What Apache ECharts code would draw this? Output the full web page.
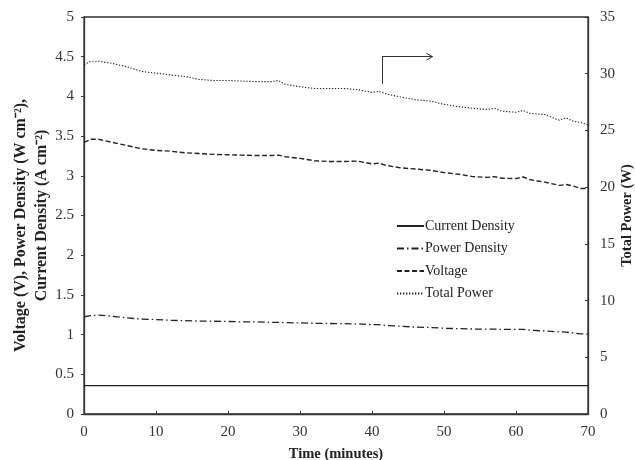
<!DOCTYPE html>
<html>
<head>
<meta charset="utf-8">
<script src="https://cdn.jsdelivr.net/npm/echarts@6/dist/echarts.min.js"></script>
<style>html,body{margin:0;padding:0;background:#fff}#c{width:635px;height:460px}</style>
</head>
<body>
<div id="c"></div>
<script>
// Time (minutes)
var minutes = [0,1,2,3,4,6,8,10,12,14,16,18,20,22,24,26,27,28,30,32,34,36,38,40,41,42,44,46,48,50,52,54,56,57,58,60,61,62,64,66,67,68,69,70];
// Voltage (V)
var voltage = [3.42,3.46,3.46,3.44,3.42,3.38,3.34,3.32,3.31,3.29,3.28,3.27,3.265,3.26,3.255,3.255,3.26,3.24,3.22,3.19,3.18,3.18,3.185,3.15,3.16,3.13,3.10,3.085,3.07,3.04,3.02,2.99,2.98,2.99,2.97,2.965,2.985,2.95,2.92,2.88,2.89,2.87,2.84,2.84];
// Power density (W cm-2)
var powerDensity = [1.225,1.24,1.245,1.24,1.23,1.21,1.195,1.19,1.18,1.175,1.17,1.168,1.165,1.16,1.16,1.155,1.155,1.15,1.148,1.142,1.14,1.138,1.135,1.125,1.125,1.115,1.105,1.095,1.09,1.08,1.075,1.07,1.068,1.07,1.065,1.065,1.065,1.055,1.045,1.035,1.03,1.02,1.01,1.005];
// Current density (A cm-2)
var currentDensity = [0.357,0.357,0.357,0.357,0.357,0.357,0.357,0.357,0.357,0.357,0.357,0.357,0.357,0.357,0.357,0.357,0.357,0.357,0.357,0.357,0.357,0.357,0.357,0.357,0.357,0.357,0.357,0.357,0.357,0.357,0.357,0.357,0.357,0.357,0.357,0.357,0.357,0.357,0.357,0.357,0.357,0.357,0.357,0.357];
// Total power (W)
var totalPower = [30.8,31.1,31.1,31.0,30.9,30.6,30.2,30.05,29.9,29.75,29.5,29.4,29.4,29.35,29.3,29.3,29.4,29.05,28.85,28.7,28.7,28.7,28.6,28.35,28.45,28.2,27.95,27.7,27.6,27.3,27.1,26.95,26.85,26.95,26.7,26.6,26.75,26.5,26.4,25.9,26.1,25.8,25.7,25.5];
// Annotation arrow (points to right axis): [minutes, W]
var arrowStart = [41.4, 29.1];
var arrowCorner = [41.4, 31.5];
var arrowEnd = [48.4, 31.5];
var arrowHeadBack = 0.85, arrowHeadHalf = 0.3;

function pairs(ys){ return minutes.map(function(t,i){ return [t, ys[i]]; }); }

var FONT = 'Liberation Serif';
var INK = '#222';
var chart = echarts.init(document.getElementById('c'), null, {renderer:'canvas'});

var axisCommon = {
  axisLine:{show:true, lineStyle:{color:'#333', width:1.3}},
  splitLine:{show:false},
  axisLabel:{fontFamily:FONT, fontSize:15, color:'#333'},
  nameMoveOverlap:false,
  nameTextStyle:{fontFamily:FONT, fontSize:14.5, fontWeight:'bold', color:INK}
};

chart.setOption({
  animation:false,
  backgroundColor:'#fff',
  color:[INK, INK, INK, INK],
  grid:{left:84, right:47, top:17, bottom:46, show:true, borderColor:'#333', borderWidth:1.3,
        containLabel:false, outerBoundsMode:'none'},
  legend:{
    orient:'vertical', left:391, top:214, itemWidth:27, itemHeight:14, itemGap:8.5,
    data:['Current Density','Power Density','Voltage','Total Power'],
    itemStyle:{opacity:0, borderWidth:0},
    textStyle:{fontFamily:FONT, fontSize:14, color:INK, padding:[0,0,0,-4]}
  },
  xAxis:Object.assign({}, axisCommon, {
    type:'value', min:0, max:70, interval:10,
    name:'Time (minutes)', nameLocation:'middle', nameGap:33,
    axisTick:{inside:true, length:3, lineStyle:{color:'#333'}},
    axisLabel:Object.assign({}, axisCommon.axisLabel, {margin:11})
  }),
  yAxis:[
    Object.assign({}, axisCommon, {
      type:'value', min:0, max:5, interval:0.5, position:'left',
      name:'{a|Voltage (V), Power Density (W cm\u207B\u00B2),}\n{b|Current Density (A cm\u207B\u00B2)}',
      nameLocation:'middle', nameRotate:90, nameGap:32,
      nameTextStyle:{fontFamily:FONT, fontSize:16, fontWeight:'bold', color:INK, lineHeight:21,
        rich:{a:{fontFamily:FONT, fontSize:16, fontWeight:'bold', color:INK, padding:[0,20,0,0]},
              b:{fontFamily:FONT, fontSize:16, fontWeight:'bold', color:INK}}},
      axisTick:{show:true, inside:false, length:3, lineStyle:{color:'#333'}},
      axisLabel:Object.assign({}, axisCommon.axisLabel, {margin:10})
    }),
    Object.assign({}, axisCommon, {
      type:'value', min:0, max:35, interval:5, position:'right',
      name:'Total Power (W)', nameLocation:'middle', nameRotate:90, nameGap:32,
      axisTick:{show:true, inside:true, length:3, lineStyle:{color:'#333'}},
      axisLabel:Object.assign({}, axisCommon.axisLabel, {margin:12})
    })
  ],
  series:[
    {name:'Current Density', type:'line', yAxisIndex:0, data:pairs(currentDensity), symbol:'none',
      itemStyle:{color:INK}, lineStyle:{color:INK, width:1.3, type:'solid'}},
    {name:'Power Density', type:'line', yAxisIndex:0, data:pairs(powerDensity), symbol:'none',
      itemStyle:{color:INK}, lineStyle:{color:INK, width:1.3, type:[7,3,1.5,3]}},
    {name:'Voltage', type:'line', yAxisIndex:0, data:pairs(voltage), symbol:'none',
      itemStyle:{color:INK}, lineStyle:{color:INK, width:1.4, type:[5,2.5]}},
    {name:'Total Power', type:'line', yAxisIndex:1, data:pairs(totalPower), symbol:'none',
      itemStyle:{color:INK}, lineStyle:{color:INK, width:1.1, type:[1.3,1.7]},
      markLine:{
        silent:true, symbol:'none', label:{show:false}, animation:false,
        lineStyle:{color:'#333', width:1, type:'solid'},
        data:[
          [{coord:arrowStart},{coord:arrowCorner}],
          [{coord:arrowCorner},{coord:arrowEnd}],
          [{coord:[arrowEnd[0]-arrowHeadBack, arrowEnd[1]+arrowHeadHalf]},{coord:arrowEnd}],
          [{coord:[arrowEnd[0]-arrowHeadBack, arrowEnd[1]-arrowHeadHalf]},{coord:arrowEnd}]
        ]
      }}
  ]
});
</script>
</body>
</html>
